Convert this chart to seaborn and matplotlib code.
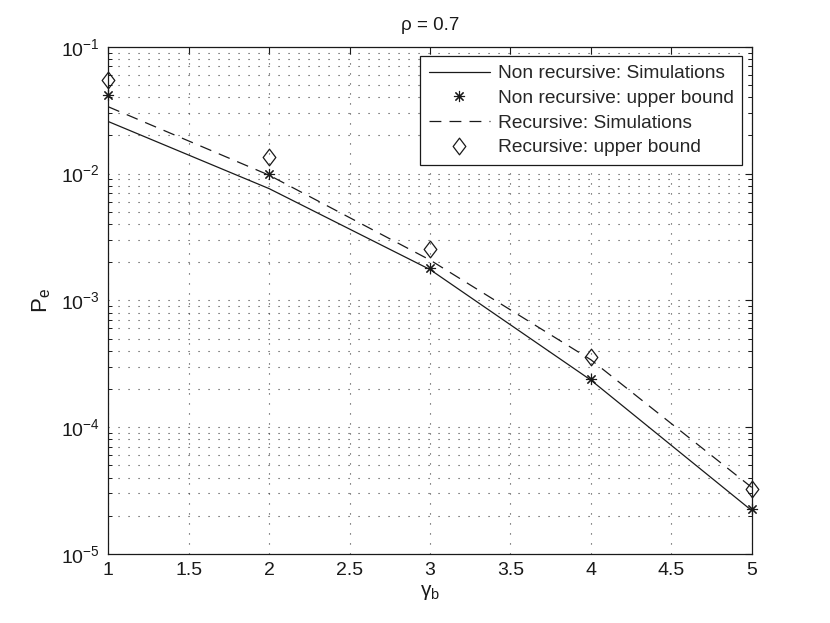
import matplotlib
matplotlib.use("Agg")
import matplotlib.pyplot as plt
import seaborn as sns
import numpy as np
from matplotlib.path import Path
from matplotlib.ticker import LogLocator, FixedLocator, NullFormatter, NullLocator

# ---- data ----
gamma_b = [1, 2, 3, 4, 5]
nonrec_sim = [0.0257, 0.0076, 0.00175, 2.35e-4, 2.2e-5]
nonrec_bound = [0.0416, 0.0099, 0.00179, 2.39e-4, 2.25e-5]
rec_sim = [0.0336, 0.0097, 0.00208, 3.4e-4, 3.35e-5]
rec_bound = [0.0546, 0.0134, 0.00252, 3.59e-4, 3.23e-5]
x_ticks = [1, 1.5, 2, 2.5, 3, 3.5, 4, 4.5, 5]
labels = ["Non recursive: Simulations", "Non recursive: upper bound",
          "Recursive: Simulations", "Recursive: upper bound"]
title = "ρ = 0.7"

sns.set_theme(style="white")
plt.rcParams['font.family'] = ['Liberation Sans', 'DejaVu Sans']
plt.rcParams['mathtext.fontset'] = 'custom'
plt.rcParams['mathtext.rm'] = 'Liberation Sans'
plt.rcParams['mathtext.it'] = 'Liberation Sans:italic'
plt.rcParams['mathtext.bf'] = 'Liberation Sans:bold'

fig = plt.figure(figsize=(8.30, 6.23), dpi=100)
ax = fig.add_axes([0.1305, 0.1108, 0.9057 - 0.1305, 0.925 - 0.1108])

diamond = Path([(0, 1), (0.76, 0), (0, -1), (-0.76, 0), (0, 1)],
               [Path.MOVETO, Path.LINETO, Path.LINETO, Path.LINETO, Path.CLOSEPOLY])

sns.lineplot(x=gamma_b, y=nonrec_sim, ax=ax, color='k', lw=0.9, label=labels[0])
sns.lineplot(x=gamma_b, y=nonrec_bound, ax=ax, color='k', linestyle='none',
             marker=(8, 2, 0), markersize=8, markeredgewidth=0.8,
             markeredgecolor='k', label=labels[1], clip_on=False)
sns.lineplot(x=gamma_b, y=rec_sim, ax=ax, color='k', lw=0.9,
             linestyle=(0, (9.5, 6.5)), label=labels[2])
sns.lineplot(x=gamma_b, y=rec_bound, ax=ax, color='k', linestyle='none',
             marker=diamond, markersize=12, markeredgewidth=0.9,
             markeredgecolor='k', markerfacecolor='none', label=labels[3],
             clip_on=False)

ax.set_yscale('log')
ax.set_xlim(1, 5)
ax.set_ylim(1e-5, 1e-1)
ax.xaxis.set_major_locator(FixedLocator(x_ticks))
ax.xaxis.set_minor_locator(NullLocator())
ax.set_xticklabels([f"{t:g}" for t in x_ticks])
ax.yaxis.set_major_locator(LogLocator(base=10, numticks=10))
ax.yaxis.set_minor_locator(LogLocator(base=10, subs=np.arange(2, 10), numticks=10))
ax.yaxis.set_minor_formatter(NullFormatter())

grid_ls = (0, (1, 8))
ax.grid(True, which='major', axis='both', color='0.25', lw=0.8, linestyle=grid_ls)
ax.grid(True, which='minor', axis='y', color='0.25', lw=0.8, linestyle=grid_ls)
ax.set_axisbelow(True)

for s in ax.spines.values():
    s.set_color('k')
    s.set_linewidth(0.9)
    s.set_visible(True)

ax.tick_params(which='major', direction='in', length=5, width=0.8, color='k',
               top=True, right=True, labelsize=14, labelcolor='k', pad=6)
ax.tick_params(which='minor', direction='in', length=3, width=0.7, color='k',
               top=True, right=True, left=True, bottom=True)

ax.set_title(title, fontsize=13.5, color='k', pad=12)
ax.set_xlabel("γ$_\\mathregular{b}$", fontsize=15, color='k', labelpad=3)
ax.set_ylabel("P$_\\mathregular{e}$", fontsize=16, color='k', labelpad=6)

leg = ax.legend(loc='upper right', fontsize=13.8, frameon=True, fancybox=False,
                edgecolor='k', framealpha=1, handlelength=3.2, borderaxespad=0.5,
                borderpad=0.45, labelspacing=0.38, handletextpad=0.4)
leg.get_frame().set_linewidth(0.9)

fig.savefig("out.png", dpi=100, facecolor='white')
